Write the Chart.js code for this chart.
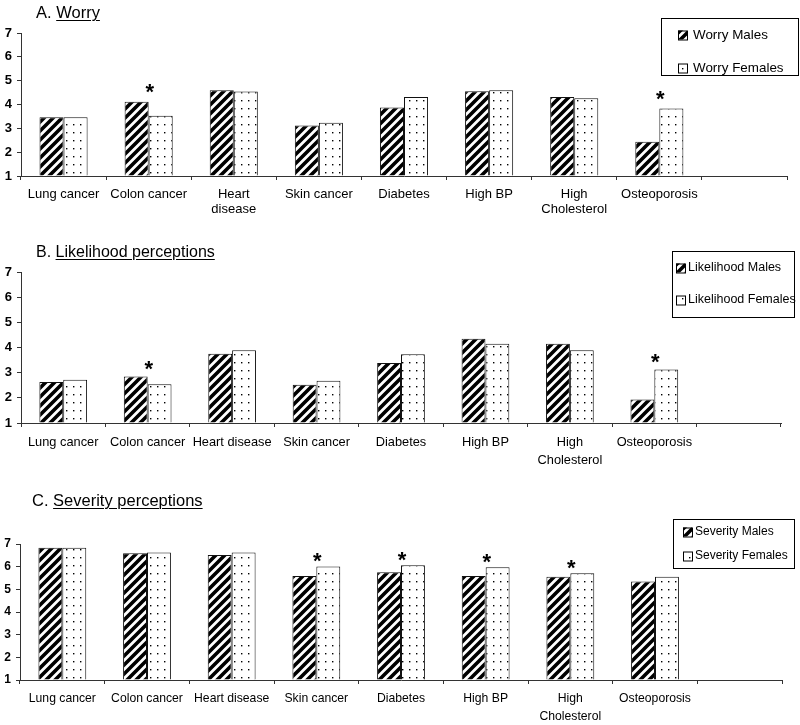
<!DOCTYPE html>
<html>
<head>
<meta charset="utf-8">
<script src="https://cdn.jsdelivr.net/npm/chart.js@4.4.1/dist/chart.umd.min.js"></script>
<style>
  body { margin: 0; background: #fff; }
  #page { position: relative; width: 800px; height: 725px; overflow: hidden; font-family: "Liberation Sans", Arial, sans-serif; }
  canvas { position: absolute; left: 0; }
  .title { position: absolute; line-height: 1; color: #000; white-space: nowrap; }
  .title u { text-decoration-thickness: 1px; text-underline-offset: 2px; }
</style>
</head>
<body>
<div id="page">
  <canvas id="chartA" width="800" height="230" style="top:0"></canvas>
  <canvas id="chartB" width="800" height="235" style="top:230px"></canvas>
  <canvas id="chartC" width="800" height="260" style="top:465px"></canvas>
  <div class="title" style="left:36px; top:4px; font-size:16.5px">A. <u>Worry</u></div>
  <div class="title" style="left:36px; top:244px; font-size:16px">B. <u>Likelihood perceptions</u></div>
  <div class="title" style="left:32px; top:492px; font-size:16.5px">C. <u>Severity perceptions</u></div>
</div>
<script>
// categories (last one is the empty slot on the right)
var labelsA = ['Lung cancer', 'Colon cancer', ['Heart', 'disease'], 'Skin cancer', 'Diabetes', 'High BP', ['High', 'Cholesterol'], 'Osteoporosis', ''];
var labelsB = ['Lung cancer', 'Colon cancer', 'Heart disease', 'Skin cancer', 'Diabetes', 'High BP', ['High', 'Cholesterol'], 'Osteoporosis', ''];
var labelsC = ['Lung cancer', 'Colon cancer', 'Heart disease', 'Skin cancer', 'Diabetes', 'High BP', ['High', 'Cholesterol'], 'Osteoporosis', ''];

var worryMales   = [3.46, 4.12, 4.60, 3.12, 3.87, 4.56, 4.31, 2.44];
var worryFemales = [3.46, 3.53, 4.55, 3.23, 4.31, 4.60, 4.26, 3.83];
var worrySig     = [false, true, false, false, false, false, false, true];

var likelihoodMales   = [2.63, 2.85, 3.75, 2.52, 3.38, 4.35, 4.15, 1.93];
var likelihoodFemales = [2.72, 2.54, 3.89, 2.68, 3.73, 4.15, 3.89, 3.13];
var likelihoodSig     = [false, true, false, false, false, false, false, true];

var severityMales   = [6.84, 6.59, 6.51, 5.59, 5.75, 5.59, 5.56, 5.35];
var severityFemales = [6.84, 6.63, 6.63, 6.01, 6.06, 5.97, 5.71, 5.56];
var severitySig     = [false, false, false, true, true, true, true, false];

var yTicks = [1, 2, 3, 4, 5, 6, 7];

var FONT = '"Liberation Sans", Arial, sans-serif';

// fill patterns
function stripes() {
    var c = document.createElement('canvas');
    c.width = 9; c.height = 9;
    var g = c.getContext('2d');
    g.fillStyle = '#fff';
    g.fillRect(0, 0, 9, 9);
    g.strokeStyle = '#000';
    g.lineWidth = 3.6;
    g.beginPath();
    for (var k = -9; k <= 18; k += 9) {
        g.moveTo(k - 2, 11);
        g.lineTo(k + 11, -2);
    }
    g.stroke();
    return g.createPattern(c, 'repeat');
}
function dots() {
    var c = document.createElement('canvas');
    c.width = 7; c.height = 8;
    var g = c.getContext('2d');
    g.fillStyle = '#fff';
    g.fillRect(0, 0, 7, 8);
    g.fillStyle = '#000';
    g.fillRect(3, 4, 1.4, 1.4);
    return g.createPattern(c, 'repeat');
}
var malePattern = stripes();
var femalePattern = dots();

// boxed legend drawn inside the plot
var boxLegend = {
    id: 'boxLegend',
    afterDraw: function(chart, args, o) {
        var ctx = chart.ctx;
        ctx.save();
        ctx.strokeStyle = '#000';
        ctx.lineWidth = 1;
        ctx.strokeRect(o.x + 0.5, o.y + 0.5, o.w, o.h);
        ctx.font = o.size + 'px ' + FONT;
        ctx.textBaseline = 'middle';
        chart.data.datasets.forEach(function(ds, i) {
            var y = o.rows[i];
            ctx.fillStyle = ds.backgroundColor;
            ctx.fillRect(o.sx, y - 4.5, 9, 9);
            ctx.strokeRect(o.sx + 0.5, y - 4.5 + 0.5, 9, 9);
            ctx.fillStyle = '#000';
            ctx.fillText(ds.label, o.tx, y);
        });
        ctx.restore();
    }
};

// significance asterisks
var stars = {
    id: 'stars',
    afterDatasetsDraw: function(chart, args, o) {
        var ctx = chart.ctx;
        var xs = chart.scales.x, ys = chart.scales.y;
        var m = chart.data.datasets[0].data, f = chart.data.datasets[1].data;
        ctx.save();
        ctx.font = 'bold 22px ' + FONT;
        ctx.textAlign = 'center';
        ctx.textBaseline = 'alphabetic';
        ctx.fillStyle = '#000';
        o.flags.forEach(function(on, i) {
            if (!on) return;
            var x = xs.getPixelForValue(i) + 1;
            var y = ys.getPixelForValue(Math.max(m[i], f[i])) - o.gap + 9.3;
            ctx.fillText('*', x, y);
        });
        ctx.restore();
    }
};

function makeChart(id, labels, names, males, females, sig, lay) {
    var ctx = document.getElementById(id).getContext('2d');
    return new Chart(ctx, {
        type: 'bar',
        data: {
            labels: labels,
            datasets: [{
                label: names[0],
                data: males,
                backgroundColor: malePattern,
                borderColor: '#111',
                borderWidth: 1,
                base: 1
            }, {
                label: names[1],
                data: females,
                backgroundColor: femalePattern,
                borderColor: '#111',
                borderWidth: 1,
                base: 1
            }]
        },
        options: {
            responsive: false,
            animation: false,
            events: [],
            layout: { padding: { top: lay.top, right: lay.right, left: 0, bottom: 0 } },
            datasets: { bar: { categoryPercentage: 0.565, barPercentage: 1 } },
            scales: {
                x: {
                    grid: { drawOnChartArea: false, offset: true, tickLength: 4, color: '#333' },
                    border: { color: '#333' },
                    ticks: {
                        color: '#000',
                        maxRotation: 0,
                        autoSkip: false,
                        padding: lay.pad,
                        font: { family: FONT, size: lay.xsize, lineHeight: lay.lh }
                    },
                    afterFit: function(s) { s.height = lay.xh; }
                },
                y: {
                    min: 1,
                    max: 7,
                    afterBuildTicks: function(s) { s.ticks = yTicks.map(function(v) { return { value: v }; }); },
                    grid: { drawOnChartArea: false, tickLength: 4, color: '#333' },
                    border: { color: '#333' },
                    ticks: {
                        color: '#000',
                        padding: 5,
                        font: { family: FONT, size: lay.ysize, weight: 'bold' }
                    },
                    afterFit: function(s) { s.width = lay.left; }
                }
            },
            plugins: {
                legend: { display: false },
                tooltip: { enabled: false },
                boxLegend: lay.legend,
                stars: { flags: sig, gap: lay.gap }
            }
        },
        plugins: [boxLegend, stars]
    });
}

makeChart('chartA', labelsA, ['Worry Males', 'Worry Females'], worryMales, worryFemales, worrySig, {
    top: 33, right: 13, left: 21, xh: 54, pad: 7, xsize: 13, lh: 1.15, ysize: 13, gap: 12,
    legend: { x: 661, y: 18, w: 137, h: 57, sx: 678, tx: 693, rows: [35, 68], size: 13.4 }
});
makeChart('chartB', labelsB, ['Likelihood Males', 'Likelihood Females'], likelihoodMales, likelihoodFemales, likelihoodSig, {
    top: 42, right: 19, left: 21, xh: 42, pad: 7, xsize: 12.8, lh: 1.4, ysize: 13, gap: 10,
    legend: { x: 672, y: 21, w: 122, h: 66, sx: 676, tx: 688, rows: [38, 70], size: 12.5 }
});
makeChart('chartC', labelsC, ['Severity Males', 'Severity Females'], severityMales, severityFemales, severitySig, {
    top: 79, right: 18, left: 20, xh: 45, pad: 6, xsize: 12.2, lh: 1.45, ysize: 12, gap: 8,
    legend: { x: 673, y: 54, w: 121, h: 49, sx: 683, tx: 695, rows: [67, 91], size: 12 }
});
</script>
</body>
</html>
